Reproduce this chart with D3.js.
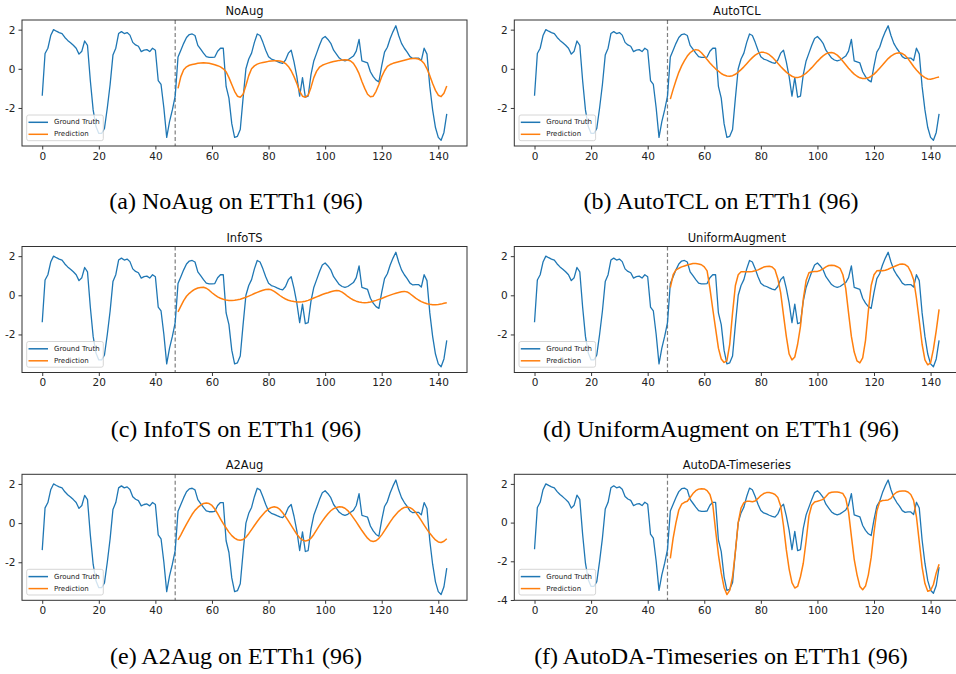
<!DOCTYPE html>
<html>
<head>
<meta charset="utf-8">
<script src="https://cdn.jsdelivr.net/npm/d3@7"></script>
<style>
  body { margin: 0; background: #fff; }
  svg { display: block; }
</style>
</head>
<body>
<svg width="956" height="674"></svg>
<script>
// ground truth, 144 steps (input 0..47, horizon 48..143)
let groundTruth = [
  -1.38, 0.78, 1.05, 1.7, 2.0, 1.92, 1.85, 1.8, 1.6, 1.45, 1.33, 1.2,
  1.05, 0.75, 0.9, 1.42, 1.2, -0.6, -2.1, -2.95, -3.3, -3.3, -3.05, -2.0,
  -0.8, 0.7, 1.05, 1.8, 1.9, 1.8, 1.85, 1.72, 1.35, 1.22, 1.15, 0.88,
  0.95, 0.98, 0.88, 1.05, 0.95, -0.6, -0.8, -2.0, -3.5, -2.7, -2.1, -1.4,
  0.6, 0.95, 1.3, 1.6, 1.75, 1.78, 1.7, 1.2, 1.0, 0.8, 0.62, 0.58,
  0.58, 0.6, 0.9, 1.05, 1.05, -0.9, -1.5, -2.8, -3.5, -3.45, -3.1, -1.5,
  0.0, 0.5, 0.8, 1.35, 1.78, 1.7, 1.35, 0.95, 0.62, 0.5, 0.45, 0.38,
  0.32, 0.28, 0.45, 0.8, 0.95, 0.35, -0.4, -1.4, -0.45, -1.45, -1.4, -0.3,
  0.4, 0.8, 1.2, 1.55, 1.65, 1.5, 1.3, 0.95, 0.75, 0.55, 0.45, 0.4,
  0.45, 0.55, 0.65, 0.9, 1.5, 0.4, 0.35, 0.3, -0.15, -0.4, -0.58, -0.67,
  0.15, 0.85, 1.1, 1.55, 1.9, 2.2, 1.7, 1.3, 1.05, 0.85, 0.62, 0.53,
  0.55, 0.55, 0.42, 1.05, 0.75, -0.9, -2.1, -3.0, -3.5, -3.65, -3.25, -2.3
]

// predictions start at step 48 (96 steps)
let predStart = 48
let splitAt = 47

let noAug = [
  -1.0, -0.4, -0.05, 0.1, 0.18, 0.22, 0.25, 0.28, 0.3, 0.31, 0.3, 0.28,
  0.25, 0.21, 0.16, 0.1, 0.0, -0.15, -0.45, -0.8, -1.15, -1.4, -1.45, -1.3,
  -0.85, -0.35, 0.0, 0.15, 0.24, 0.29, 0.32, 0.35, 0.38, 0.4, 0.41, 0.41,
  0.4, 0.36, 0.27, 0.12, -0.1, -0.4, -0.75, -1.15, -1.4, -1.45, -1.35, -0.95,
  -0.45, -0.12, 0.08, 0.18, 0.24, 0.29, 0.33, 0.37, 0.4, 0.43, 0.45, 0.46,
  0.45, 0.4, 0.28, 0.05, -0.25, -0.65, -1.0, -1.3, -1.43, -1.4, -1.15, -0.8,
  -0.4, -0.1, 0.12, 0.22, 0.28, 0.32, 0.36, 0.4, 0.44, 0.48, 0.51, 0.53,
  0.53, 0.5, 0.42, 0.27, 0.0, -0.35, -0.75, -1.1, -1.35, -1.42, -1.25, -0.88
]

let autoTCL = [
  -1.55, -1.05, -0.6, -0.18, 0.15, 0.42, 0.65, 0.82, 0.93, 0.98, 0.95, 0.82,
  0.65, 0.47, 0.3, 0.14, 0.0, -0.12, -0.24, -0.32, -0.37, -0.38, -0.35, -0.28,
  -0.17, -0.04, 0.1, 0.26, 0.42, 0.57, 0.7, 0.79, 0.84, 0.84, 0.8, 0.72,
  0.6, 0.45, 0.28, 0.12, -0.03, -0.17, -0.29, -0.38, -0.44, -0.45, -0.41, -0.33,
  -0.22, -0.09, 0.06, 0.22, 0.38, 0.53, 0.66, 0.76, 0.82, 0.83, 0.79, 0.7,
  0.56, 0.39, 0.21, 0.03, -0.13, -0.27, -0.38, -0.46, -0.5, -0.5, -0.46, -0.38,
  -0.27, -0.13, 0.03, 0.19, 0.36, 0.52, 0.65, 0.74, 0.8, 0.82, 0.78, 0.68,
  0.52, 0.32, 0.12, -0.06, -0.22, -0.35, -0.45, -0.52, -0.53, -0.5, -0.45, -0.42
]

let infoTS = [
  -0.85, -0.55, -0.27, -0.05, 0.1, 0.22, 0.31, 0.37, 0.4, 0.41, 0.36, 0.26,
  0.13, 0.02, -0.08, -0.15, -0.2, -0.24, -0.26, -0.26, -0.25, -0.23, -0.2, -0.15,
  -0.1, -0.04, 0.02, 0.09, 0.15, 0.21, 0.26, 0.3, 0.31, 0.28, 0.2, 0.1,
  -0.01, -0.11, -0.19, -0.25, -0.29, -0.32, -0.34, -0.34, -0.33, -0.3, -0.26, -0.2,
  -0.14, -0.08, -0.02, 0.04, 0.09, 0.13, 0.18, 0.22, 0.24, 0.23, 0.16, 0.06,
  -0.06, -0.16, -0.24, -0.3, -0.34, -0.37, -0.38, -0.37, -0.34, -0.3, -0.26, -0.21,
  -0.16, -0.1, -0.04, 0.01, 0.06, 0.1, 0.14, 0.18, 0.2, 0.17, 0.08, -0.03,
  -0.14, -0.24, -0.32, -0.38, -0.43, -0.46, -0.48, -0.48, -0.47, -0.45, -0.41, -0.38
]

let uniformAugment = [
  0.4, 1.05, 1.3, 1.38, 1.45, 1.5, 1.55, 1.59, 1.62, 1.62, 1.6, 1.56,
  1.45, 1.25, 0.35, -0.7, -1.7, -2.7, -3.25, -3.43, -3.35, -2.5, -0.9, 0.5,
  1.05, 1.2, 1.2, 1.2, 1.2, 1.22, 1.25, 1.3, 1.37, 1.44, 1.47, 1.48,
  1.45, 1.3, 0.85, 0.14, -1.0, -2.1, -3.0, -3.3, -3.15, -2.5, -1.6, -0.2,
  0.75, 1.15, 1.2, 1.21, 1.22, 1.27, 1.35, 1.45, 1.52, 1.54, 1.52, 1.46,
  1.38, 1.05, 0.35, -0.9, -2.1, -2.9, -3.35, -3.45, -3.2, -2.3, -0.8, 0.5,
  1.05, 1.25, 1.27, 1.25, 1.28, 1.33, 1.4, 1.46, 1.52, 1.58, 1.6, 1.57,
  1.47, 1.2, 0.8, -0.15, -1.3, -2.5, -3.3, -3.55, -3.45, -2.75, -1.8, -0.72
]

let a2Aug = [
  -0.86, -0.6, -0.32, -0.05, 0.2, 0.45, 0.65, 0.8, 0.92, 1.0, 1.03, 1.0,
  0.9, 0.72, 0.48, 0.22, -0.03, -0.25, -0.46, -0.64, -0.77, -0.85, -0.88, -0.84,
  -0.72, -0.54, -0.33, -0.12, 0.08, 0.27, 0.44, 0.6, 0.72, 0.8, 0.83, 0.8,
  0.7, 0.53, 0.33, 0.11, -0.12, -0.35, -0.57, -0.75, -0.87, -0.91, -0.88, -0.77,
  -0.58, -0.35, -0.12, 0.1, 0.3, 0.48, 0.63, 0.74, 0.8, 0.83, 0.82, 0.76,
  0.64, 0.47, 0.27, 0.06, -0.16, -0.38, -0.58, -0.77, -0.9, -0.94, -0.9, -0.78,
  -0.6, -0.38, -0.16, 0.06, 0.27, 0.44, 0.6, 0.72, 0.8, 0.82, 0.79, 0.7,
  0.55, 0.35, 0.13, -0.1, -0.32, -0.52, -0.7, -0.86, -0.96, -0.99, -0.93, -0.8
]

let autoDA = [
  -1.85, -0.8, 0.0, 0.65, 0.95, 1.05, 1.1, 1.3, 1.5, 1.65, 1.73, 1.75,
  1.74, 1.65, 1.45, 0.95, -0.4, -1.65, -2.6, -3.35, -3.72, -3.5, -2.8, -1.5,
  0.0, 0.75, 1.03, 1.1, 1.1, 1.08, 1.12, 1.25, 1.4, 1.5, 1.55, 1.55,
  1.52, 1.45, 1.3, 0.86, -0.15, -1.4, -2.4, -3.1, -3.38, -3.3, -2.8, -2.1,
  -0.95, 0.35, 0.9, 1.07, 1.1, 1.15, 1.2, 1.35, 1.52, 1.57, 1.58, 1.58,
  1.55, 1.5, 1.25, 0.55, -0.7, -1.9, -2.7, -3.3, -3.47, -3.28, -2.7, -1.8,
  -0.5, 0.6, 1.08, 1.14, 1.15, 1.17, 1.25, 1.45, 1.57, 1.62, 1.63, 1.63,
  1.58, 1.45, 1.15, 0.3, -1.0, -2.3, -3.15, -3.55, -3.5, -3.2, -2.6, -2.15
]

let titles = [ 'NoAug', 'AutoTCL', 'InfoTS', 'UniformAugment', 'A2Aug', 'AutoDA-Timeseries' ]
let captions = [
  '(a) NoAug on ETTh1 (96)',
  '(b) AutoTCL on ETTh1 (96)',
  '(c) InfoTS on ETTh1 (96)',
  '(d) UniformAugment on ETTh1 (96)',
  '(e) A2Aug on ETTh1 (96)',
  '(f) AutoDA-Timeseries on ETTh1 (96)'
]
let predictions = [ noAug, autoTCL, infoTS, uniformAugment, a2Aug, autoDA ]
let seriesNames = [ 'Ground Truth', 'Prediction' ]
let xTicks = [ 0, 20, 40, 60, 80, 100, 120, 140 ]
let yTicks = [ -4, -2, 0, 2 ]

// layout
let width = 445
let height = 126
let colX = [ 22, 514.3 ]
let rowY = [ 20, 246.5, 474.3 ]
let captionX = [ 236, 721 ]
let captionY = [ 201, 429, 656 ]
let blue = '#1f77b4'
let orange = '#ff7f0e'
let sans = 'DejaVu Sans, sans-serif'

let svg = d3.select( 'svg' )

predictions.forEach( ( pred, k ) => {
  let col = k % 2
  let row = Math.floor( k / 2 )

  let g = svg.append( 'g' )
    .attr( 'transform', `translate(${ colX[ col ] },${ rowY[ row ] })` )

  let n = groundTruth.length
  let xPad = ( n - 1 ) * 0.05
  let xScale = d3.scaleLinear()
    .domain( [ -xPad, n - 1 + xPad ] )
    .range( [ 0, width ] )

  let [ lo, hi ] = d3.extent( groundTruth.concat( pred ) )
  let yPad = ( hi - lo ) * 0.05
  let yScale = d3.scaleLinear()
    .domain( [ lo - yPad, hi + yPad ] )
    .range( [ height, 0 ] )

  let line = d3.line()
    .x( d => xScale( d[ 0 ] ) )
    .y( d => yScale( d[ 1 ] ) )

  // dashed split line
  g.append( 'line' )
    .attr( 'x1', xScale( splitAt ) )
    .attr( 'x2', xScale( splitAt ) )
    .attr( 'y1', 0 )
    .attr( 'y2', height )
    .attr( 'stroke', '#7f7f7f' )
    .attr( 'stroke-width', 1.2 )
    .attr( 'stroke-dasharray', '4,2.5' )

  g.append( 'path' )
    .datum( groundTruth.map( ( v, i ) => [ i, v ] ) )
    .attr( 'd', line )
    .attr( 'fill', 'none' )
    .attr( 'stroke', blue )
    .attr( 'stroke-width', 1.3 )
    .attr( 'stroke-linejoin', 'round' )

  g.append( 'path' )
    .datum( pred.map( ( v, i ) => [ i + predStart, v ] ) )
    .attr( 'd', line )
    .attr( 'fill', 'none' )
    .attr( 'stroke', orange )
    .attr( 'stroke-width', 1.5 )
    .attr( 'stroke-linejoin', 'round' )

  // axes
  let xAxis = g.append( 'g' )
    .attr( 'transform', `translate(0,${ height })` )
    .call( d3.axisBottom( xScale ).tickValues( xTicks ).tickSize( 3.5 ).tickPadding( 3 ) )

  let yDomain = yScale.domain()
  let yAxis = g.append( 'g' )
    .call( d3.axisLeft( yScale )
      .tickValues( yTicks.filter( t => t >= yDomain[ 0 ] && t <= yDomain[ 1 ] ) )
      .tickFormat( d => String( d ) )
      .tickSize( 3.5 ).tickPadding( 3 ) )

  ;[ xAxis, yAxis ].forEach( a => {
    a.select( '.domain' ).remove()
    a.selectAll( 'line' ).attr( 'stroke', '#222' ).attr( 'stroke-width', 0.9 )
    a.selectAll( 'text' )
      .attr( 'fill', '#222' )
      .style( 'font-family', sans )
      .style( 'font-size', '10.5px' )
  } )

  // frame
  g.append( 'rect' )
    .attr( 'width', width )
    .attr( 'height', height )
    .attr( 'fill', 'none' )
    .attr( 'stroke', '#333' )
    .attr( 'stroke-width', 1 )

  // title
  g.append( 'text' )
    .text( titles[ k ] )
    .attr( 'x', width / 2 )
    .attr( 'y', -5 )
    .attr( 'text-anchor', 'middle' )
    .style( 'font-family', sans )
    .style( 'font-size', '11.5px' )
    .attr( 'fill', '#111' )

  // legend
  let legend = g.append( 'g' )
    .attr( 'transform', 'translate(4.7,95)' )

  legend.append( 'rect' )
    .attr( 'width', 76.6 )
    .attr( 'height', 25.7 )
    .attr( 'rx', 2 )
    .attr( 'fill', 'white' )
    .attr( 'fill-opacity', 0.8 )
    .attr( 'stroke', '#cccccc' )
    .attr( 'stroke-width', 0.8 )

  let items = legend.selectAll( 'g.item' )
    .data( seriesNames )
    .enter()
    .append( 'g' )
    .attr( 'class', 'item' )
    .attr( 'transform', ( d, i ) => `translate(0,${ 7.3 + i * 12 })` )

  items.append( 'line' )
    .attr( 'x1', 1.8 )
    .attr( 'x2', 21.3 )
    .attr( 'stroke', ( d, i ) => i === 0 ? blue : orange )
    .attr( 'stroke-width', 1.5 )

  items.append( 'text' )
    .text( d => d )
    .attr( 'x', 27.3 )
    .attr( 'dominant-baseline', 'central' )
    .style( 'font-family', sans )
    .style( 'font-size', '7px' )
    .attr( 'fill', '#222' )

  // caption
  svg.append( 'text' )
    .text( captions[ k ] )
    .attr( 'x', captionX[ col ] )
    .attr( 'y', captionY[ row ] )
    .attr( 'text-anchor', 'middle' )
    .attr( 'dominant-baseline', 'central' )
    .style( 'font-family', 'Liberation Serif, serif' )
    .style( 'font-size', '24px' )
    .attr( 'fill', '#000' )
} )
</script>
</body>
</html>
